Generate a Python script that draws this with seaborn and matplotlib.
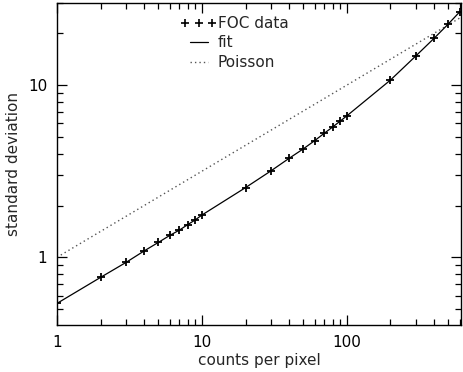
import numpy as np
import pandas as pd
import seaborn as sns
import matplotlib
matplotlib.use("Agg")
import matplotlib.pyplot as plt
from matplotlib.lines import Line2D
from matplotlib.legend_handler import HandlerLine2D
from matplotlib.ticker import LogLocator, NullFormatter, FixedLocator, FixedFormatter

# Data
counts = [1, 2, 3, 4, 5, 6, 7, 8, 9, 10, 20, 30, 40, 50, 60, 70, 80, 90, 100,
          200, 300, 400, 500, 600]
foc_sd = [0.54, 0.765, 0.935, 1.09, 1.22, 1.34, 1.44, 1.55, 1.65, 1.76, 2.54, 3.18,
          3.76, 4.26, 4.76, 5.26, 5.72, 6.18, 6.63, 10.7, 14.8, 18.7, 22.6, 26.6]
fit_sd = foc_sd
poisson_x = [1.0, 615.0]
poisson_y = [1.0, 24.8]
x_ticks = [1, 10, 100]
x_ticklabels = ["1", "10", "100"]
y_ticks = [1, 10]
y_ticklabels = ["1", "10"]

sns.set_style("ticks")
plt.rcParams["font.family"] = ["DejaVu Sans"]

fig = plt.figure(figsize=(4.63, 3.72), dpi=100)
ax = fig.add_axes([0.123, 0.126, 0.873, 0.866])

df = pd.DataFrame({"counts": counts, "sd": foc_sd, "fit": fit_sd})
dp = pd.DataFrame({"x": poisson_x, "y": poisson_y})

sns.lineplot(data=dp, x="x", y="y", ax=ax, color="#555555", linestyle=(0, (1, 2.2)),
             linewidth=1.0, estimator=None, sort=False)
sns.lineplot(data=df, x="counts", y="fit", ax=ax, color="black", linewidth=0.9,
             estimator=None, sort=False)
sns.scatterplot(data=df, x="counts", y="sd", ax=ax, marker="+", color="black",
                s=38, linewidth=1.3, zorder=3)

ax.set_xscale("log")
ax.set_yscale("log")
ax.set_xlim(1, 615)
ax.set_ylim(0.404, 30)

ax.xaxis.set_major_locator(FixedLocator(x_ticks))
ax.xaxis.set_major_formatter(FixedFormatter(x_ticklabels))
ax.yaxis.set_major_locator(FixedLocator(y_ticks))
ax.yaxis.set_major_formatter(FixedFormatter(y_ticklabels))
ax.xaxis.set_minor_locator(LogLocator(base=10, subs=np.arange(2, 10)))
ax.yaxis.set_minor_locator(LogLocator(base=10, subs=np.arange(2, 10)))
ax.xaxis.set_minor_formatter(NullFormatter())
ax.yaxis.set_minor_formatter(NullFormatter())

ax.tick_params(which="both", direction="in", top=True, right=True, width=0.9,
               labelsize=11, colors="black")
ax.tick_params(which="major", length=7, pad=7)
ax.tick_params(which="minor", length=4)
for s in ax.spines.values():
    s.set_linewidth(1.0)
    s.set_color("black")

ax.set_xlabel("counts per pixel", fontsize=11, labelpad=2)
ax.set_ylabel("standard deviation", fontsize=11, labelpad=5)

handles = [
    Line2D([], [], marker="+", linestyle="none", color="black", markersize=6, markeredgewidth=1.2),
    Line2D([], [], color="black", linewidth=0.9),
    Line2D([], [], color="#555555", linestyle=(0, (1, 2.2)), linewidth=1.0),
]
ax.legend(handles, ["FOC data", "fit", "Poisson"], loc="upper left",
          bbox_to_anchor=(0.318, 0.96), frameon=False, numpoints=3,
          handlelength=1.75, handletextpad=0.35, labelspacing=0.3, fontsize=11,
          borderpad=0, borderaxespad=0,
          handler_map={handles[0]: HandlerLine2D(marker_pad=0.0, numpoints=3)})

fig.savefig("out.png", dpi=100)
